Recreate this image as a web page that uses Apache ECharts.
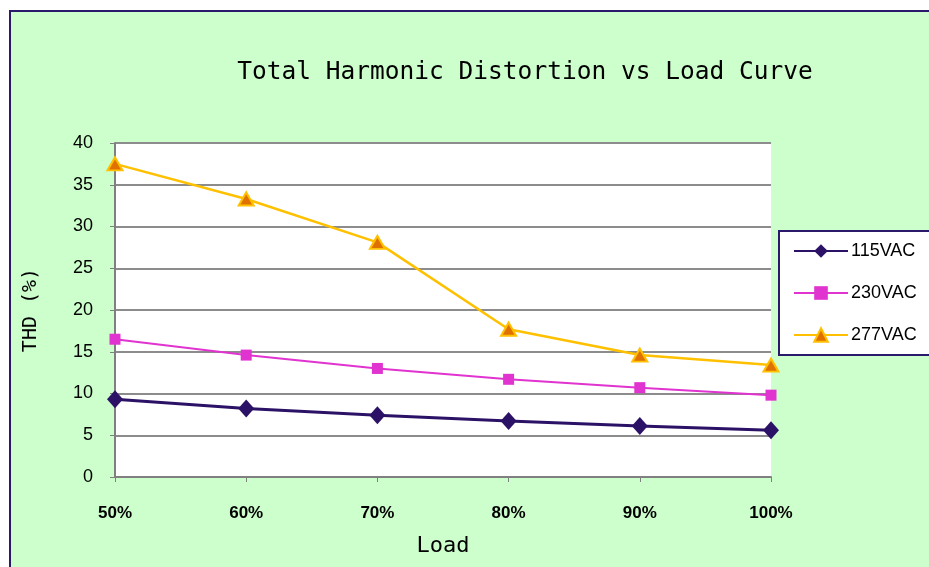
<!DOCTYPE html>
<html>
<head>
<meta charset="utf-8">
<script src="https://cdn.jsdelivr.net/npm/echarts@6/dist/echarts.min.js"></script>
<style>
  html, body { margin: 0; padding: 0; background: #fff; }
  #chart { width: 929px; height: 567px; }
</style>
</head>
<body>
<div id="chart"></div>
<script>
const loads = ['50%', '60%', '70%', '80%', '90%', '100%'];
const vac115 = [9.3, 8.2, 7.4, 6.7, 6.1, 5.6];
const vac230 = [16.5, 14.6, 13.0, 11.7, 10.7, 9.8];
const vac277 = [37.5, 33.3, 28.1, 17.7, 14.6, 13.4];

const labelFont = "'Liberation Sans Narrow', 'Liberation Sans', Arial, sans-serif";
const monoFont = "'DejaVu Sans Mono', 'Liberation Mono', monospace";

const chart = echarts.init(document.getElementById('chart'));

chart.setOption({
  backgroundColor: '#ffffff',
  animation: false,
  graphic: [
    {
      type: 'rect',
      z: -10,
      shape: { x: 10, y: 11, width: 940, height: 580 },
      style: { fill: '#CCFFCC', stroke: '#2B1A6B', lineWidth: 2 }
    }
  ],
  title: {
    text: 'Total Harmonic Distortion vs Load Curve',
    left: 520,
    top: 55,
    textAlign: 'center',
    textStyle: { fontFamily: monoFont, fontSize: 24.5, fontWeight: 'normal', color: '#000' }
  },
  legend: {
    orient: 'vertical',
    left: 779,
    top: 231,
    width: 160,
    padding: [11, 30, 11, 14],
    itemGap: 24,
    itemWidth: 54,
    itemHeight: 17,
    backgroundColor: '#ffffff',
    borderColor: '#2B1A6B',
    borderWidth: 2,
    textStyle: { fontFamily: labelFont, fontSize: 18, color: '#000', padding: [0, 0, 0, -2] },
    data: ['115VAC', '230VAC', '277VAC']
  },
  grid: {
    left: 115,
    right: 158,
    top: 143,
    bottom: 90,
    show: true,
    backgroundColor: '#ffffff',
    borderWidth: 0
  },
  xAxis: {
    type: 'category',
    data: loads,
    boundaryGap: false,
    name: 'Load',
    nameLocation: 'middle',
    nameGap: 58,
    nameTextStyle: { fontFamily: monoFont, fontSize: 22, color: '#000' },
    axisLine: { lineStyle: { color: '#808080', width: 2 } },
    axisTick: { show: true, length: 5, lineStyle: { color: '#808080' } },
    axisLabel: { margin: 28, fontFamily: labelFont, fontSize: 17, fontWeight: 'bold', color: '#000' },
    splitLine: { show: false }
  },
  yAxis: {
    type: 'value',
    min: 0,
    max: 40,
    interval: 5,
    name: 'THD (%)',
    nameLocation: 'middle',
    nameGap: 74,
    nameRotate: 90,
    nameTextStyle: { fontFamily: monoFont, fontSize: 20, color: '#000' },
    axisLine: { show: true, lineStyle: { color: '#808080', width: 2 } },
    axisTick: { show: true, length: 5, lineStyle: { color: '#808080' } },
    axisLabel: { margin: 22, fontFamily: labelFont, fontSize: 18, color: '#000' },
    splitLine: { lineStyle: { color: '#8c8c8c', width: 2 } }
  },
  series: [
    {
      name: '115VAC',
      type: 'line',
      data: vac115,
      symbol: 'diamond',
      symbolSize: [16, 18],
      itemStyle: { color: '#2B1266' },
      lineStyle: { color: '#2B1266', width: 3 }
    },
    {
      name: '230VAC',
      type: 'line',
      data: vac230,
      symbol: 'rect',
      symbolSize: 11,
      itemStyle: { color: '#E033CF' },
      lineStyle: { color: '#E033CF', width: 2 }
    },
    {
      name: '277VAC',
      type: 'line',
      data: vac277,
      symbol: 'triangle',
      symbolSize: [15, 13],
      itemStyle: { color: '#E07000', borderColor: '#FFC000', borderWidth: 2 },
      lineStyle: { color: '#FFC000', width: 2.5 }
    }
  ]
});
</script>
</body>
</html>
